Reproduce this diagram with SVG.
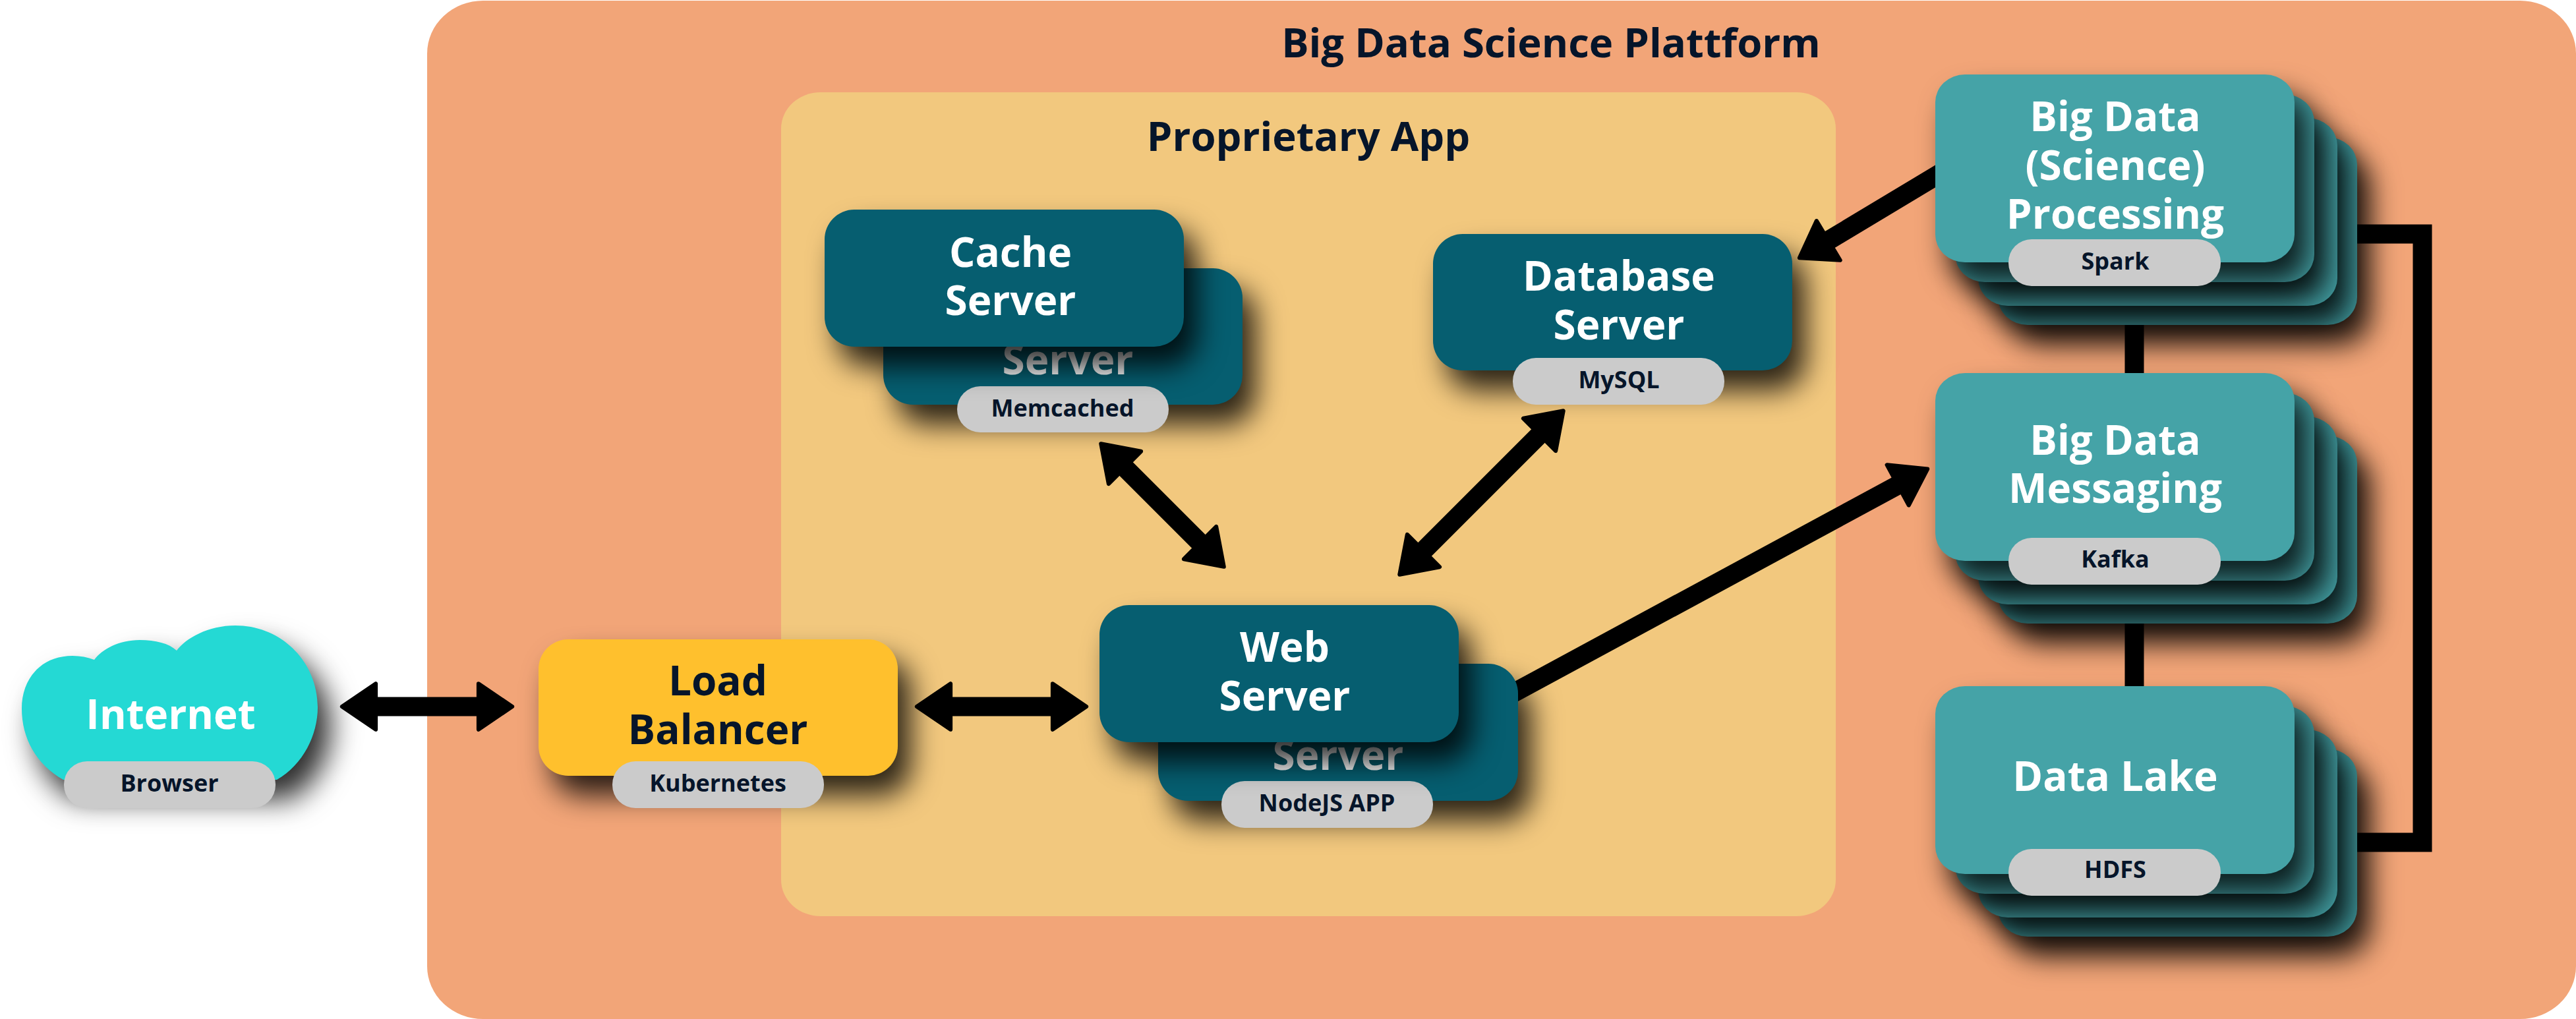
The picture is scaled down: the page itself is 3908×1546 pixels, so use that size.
<svg xmlns="http://www.w3.org/2000/svg" width="3908" height="1546" viewBox="0 0 3908 1546">
<defs>
<style>
text{font-family:"Open Sans","Noto Sans","Liberation Sans",sans-serif;text-anchor:middle;font-weight:700}
.t{font-size:62px;fill:#fff}
.d{font-size:62px;fill:#06152a}
.p{font-size:36px;fill:#06152a}
.h{font-size:61.6px;fill:#06152a}
.pill{fill:#cbcbcb}
.dark{fill:#065e70}
.teal{fill:#45a3a7}
.conn{fill:none;stroke:#000;stroke-width:29}
.s{filter:url(#sh)}
</style>
<filter id="sh" x="-25%" y="-25%" width="160%" height="180%" color-interpolation-filters="sRGB">
<feDropShadow dx="20" dy="30" stdDeviation="22" flood-color="#000" flood-opacity="0.82"/>
</filter>
<marker id="ah" markerUnits="userSpaceOnUse" markerWidth="80" markerHeight="90" viewBox="-4 -44 64 88" refX="2" refY="0" orient="auto-start-reverse">
<path d="M0 -34 L50 0 L0 34 Z" fill="#000" stroke="#000" stroke-width="6" stroke-linejoin="round"/>
</marker>
<rect id="stackcard" width="545" height="285" rx="45" ry="42"/>
</defs>

<rect id="platform" x="648" y="1" width="3260" height="1545" rx="85" ry="80" fill="#f2a578"/>
<text class="h" x="2353" y="87">Big Data Science Plattform</text>
<rect id="app" x="1185" y="140" width="1600" height="1250" rx="60" ry="55" fill="#f2c87e"/>
<text class="h" x="1985" y="229">Proprietary App</text>

<g id="connectors">
<line class="conn" x1="568" y1="1072" x2="728" y2="1072" marker-start="url(#ah)" marker-end="url(#ah)"/>
<line class="conn" x1="1440" y1="1072" x2="1599" y2="1072" marker-start="url(#ah)" marker-end="url(#ah)"/>
<line class="conn" x1="1705" y1="708" x2="1822" y2="825" marker-start="url(#ah)" marker-end="url(#ah)"/>
<line class="conn" x1="2337" y1="658" x2="2158" y2="837" marker-start="url(#ah)" marker-end="url(#ah)"/>
<line class="conn" x1="2280" y1="1060" x2="2881" y2="735" marker-end="url(#ah)"/>
<line class="conn" x1="2960" y1="253" x2="2772" y2="366" marker-end="url(#ah)"/>
<path class="conn" d="M3238 480V1050"/>
<path class="conn" d="M3560 355H3675V1278H3560"/>
</g>

<g id="internet">
<path class="s" fill="#24d9d4" d="M33 1075C33 1030 62 995 110 995C122 995 133 997 143 1001C155 985 180 971 212 971C236 971 256 976 268 987C282 968 316 949 357 949C428 949 482 1005 482 1073C482 1115 460 1160 420 1183L96 1183C55 1160 33 1120 33 1075Z"/>
<text class="t" x="259" y="1106">Internet</text>
<rect class="pill" x="97" y="1155" width="321" height="71" rx="35"/>
<text class="p" x="257" y="1201">Browser</text>
</g>

<g id="load-balancer">
<rect class="s" x="817" y="970" width="545" height="207" rx="45" fill="#ffc02d"/>
<text class="d" x="1089" y="1055">Load</text>
<text class="d" x="1089" y="1129">Balancer</text>
<rect class="pill" x="929" y="1155" width="321" height="71" rx="35"/>
<text class="p" x="1089" y="1201">Kubernetes</text>
</g>

<g id="cache-server">
<rect class="dark s" x="1340" y="407" width="545" height="207" rx="45"/>
<text class="t" x="1620" y="568">Server</text>
<rect class="pill" x="1452" y="586" width="321" height="70" rx="35"/>
<text class="p" x="1612" y="632">Memcached</text>
<rect class="dark s" x="1251" y="318" width="545" height="208" rx="45"/>
<text class="t" x="1533" y="405">Cache</text>
<text class="t" x="1533" y="478">Server</text>
</g>

<g id="database-server">
<rect class="dark s" x="2174" y="355" width="545" height="207" rx="45"/>
<text class="t" x="2456" y="441">Database</text>
<text class="t" x="2456" y="515">Server</text>
<rect class="pill" x="2295" y="543" width="321" height="71" rx="35"/>
<text class="p" x="2456" y="589">MySQL</text>
</g>

<g id="web-server">
<rect class="dark s" x="1757" y="1007" width="546" height="208" rx="45"/>
<text class="t" x="2030" y="1168">Server</text>
<rect class="pill" x="1853" y="1185" width="321" height="71" rx="35"/>
<text class="p" x="2013" y="1231">NodeJS APP</text>
<rect class="dark s" x="1668" y="918" width="545" height="208" rx="45"/>
<text class="t" x="1949" y="1004">Web</text>
<text class="t" x="1949" y="1078">Server</text>
</g>

<g id="processing">
<use href="#stackcard" class="teal s" x="3031" y="208"/>
<use href="#stackcard" class="teal s" x="3001" y="179"/>
<use href="#stackcard" class="teal s" x="2966" y="143"/>
<use href="#stackcard" class="teal s" x="2936" y="113"/>
<text class="t" x="3209" y="199">Big Data</text>
<text class="t" x="3209" y="273">(Science)</text>
<text class="t" x="3209" y="347">Processing</text>
<rect class="pill" x="3047" y="363" width="322" height="71" rx="35"/>
<text class="p" x="3209" y="409">Spark</text>
</g>

<g id="messaging">
<use href="#stackcard" class="teal s" x="3031" y="661"/>
<use href="#stackcard" class="teal s" x="3001" y="632"/>
<use href="#stackcard" class="teal s" x="2966" y="596"/>
<use href="#stackcard" class="teal s" x="2936" y="566"/>
<text class="t" x="3209" y="690">Big Data</text>
<text class="t" x="3209" y="763">Messaging</text>
<rect class="pill" x="3047" y="816" width="322" height="71" rx="35"/>
<text class="p" x="3209" y="861">Kafka</text>
</g>

<g id="data-lake">
<use href="#stackcard" class="teal s" x="3031" y="1136"/>
<use href="#stackcard" class="teal s" x="3001" y="1107"/>
<use href="#stackcard" class="teal s" x="2966" y="1071"/>
<use href="#stackcard" class="teal s" x="2936" y="1041"/>
<text class="t" x="3209" y="1200">Data Lake</text>
<rect class="pill" x="3047" y="1288" width="322" height="71" rx="35"/>
<text class="p" x="3209" y="1332">HDFS</text>
</g>
</svg>
